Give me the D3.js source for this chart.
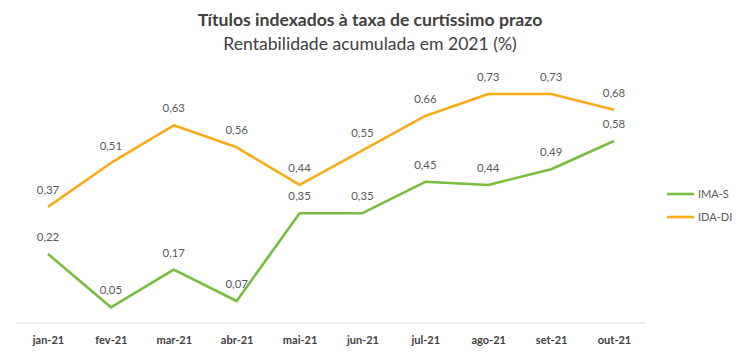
<!DOCTYPE html>
<html><head><meta charset="utf-8">
<script src="https://cdn.jsdelivr.net/npm/d3@7"></script>
<style>body{margin:0;background:#fff}svg{display:block}</style>
</head><body><svg id="c" width="750" height="355"></svg>
<script>
const months = ["jan-21","fev-21","mar-21","abr-21","mai-21","jun-21","jul-21","ago-21","set-21","out-21"];
const imaS = [0.22,0.05,0.17,0.07,0.35,0.35,0.45,0.44,0.49,0.58];
const idaDI = [0.37,0.51,0.63,0.56,0.44,0.55,0.66,0.73,0.73,0.68];
const seriesNames = ["IMA-S","IDA-DI"];
const colors = ["#78bd3f","#fbab18"];

const svg = d3.select("#c");
const font = "Lato, 'Open Sans', sans-serif";
const x = d3.scalePoint().domain(months).range([48,614]);
const y = d3.scaleLinear().domain([0,0.8]).range([323,72]);

svg.append("text").attr("x",370).attr("y",26).attr("text-anchor","middle")
  .attr("font-family",font).attr("font-weight","bold").attr("font-size",17.6).attr("fill","#404040")
  .text("Títulos indexados à taxa de curtíssimo prazo");
svg.append("text").attr("x",370).attr("y",50).attr("text-anchor","middle")
  .attr("font-family",font).attr("font-size",17.6).attr("fill","#404040")
  .text("Rentabilidade acumulada em 2021 (%)");

const axis = svg.append("g").attr("transform","translate(0,323)")
  .call(d3.axisBottom(x).tickSize(0).tickPadding(13));
axis.select(".domain").attr("d","M16,0H646").attr("stroke","#d9d9d9").attr("stroke-width",1);
axis.selectAll("text").attr("font-family",font).attr("font-weight","bold").attr("font-size",11).attr("fill","#404040");

const line = d3.line().x((d,i)=>x(months[i])).y(d=>y(d));
const fmt = v => d3.format(".2f")(v).replace(".",",");
[imaS, idaDI].forEach((s,k)=>{
  svg.append("path").datum(s).attr("d",line).attr("fill","none")
    .attr("stroke",colors[k]).attr("stroke-width",2.6).attr("stroke-linejoin","round");
  svg.append("g").selectAll("text").data(s).join("text")
    .attr("x",(d,i)=>x(months[i])).attr("y",d=>y(d)-13).attr("text-anchor","middle")
    .attr("font-family",font).attr("font-size",11.4).attr("fill","#595959").text(fmt);
});

const leg = svg.append("g");
seriesNames.forEach((n,k)=>{
  const yy = 194 + k*23;
  leg.append("line").attr("x1",667).attr("x2",694).attr("y1",yy).attr("y2",yy)
    .attr("stroke",colors[k]).attr("stroke-width",2.6);
  leg.append("text").attr("x",698).attr("y",yy+4).attr("font-family",font).attr("font-size",11)
    .attr("fill","#595959").text(n);
});
</script></body></html>
